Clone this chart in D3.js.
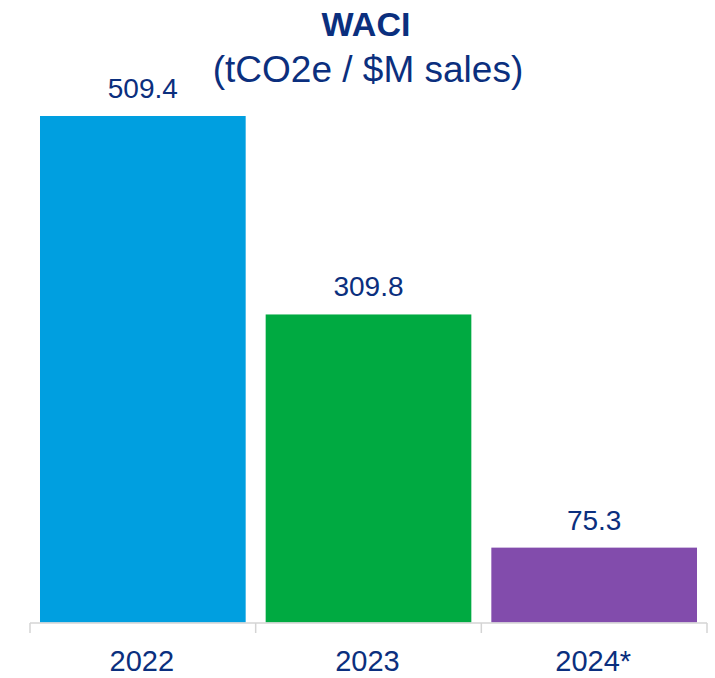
<!DOCTYPE html>
<html>
<head>
<meta charset="utf-8">
<script src="https://cdn.jsdelivr.net/npm/d3@7"></script>
<style>
  html, body { margin: 0; padding: 0; background: #fff; }
  svg { display: block; font-family: "Liberation Sans", Arial, sans-serif; }
</style>
</head>
<body>
<svg id="chart" width="715" height="678"></svg>
<script>
const categories = ["2022", "2023", "2024*"];
const values = [509.4, 309.8, 75.3];
const valueLabels = ["509.4", "309.8", "75.3"];
const barColors = ["#009fe0", "#00aa41", "#824cac"];
const titleText = "WACI";
const subtitleText = "(tCO2e / $M sales)";

const textColor = "#0b2f7e";
const svg = d3.select("#chart");

const x = d3.scaleBand()
  .domain(categories)
  .range([30, 707])
  .paddingInner(0.0886)
  .paddingOuter(0.0443);

const y = d3.scaleLinear()
  .domain([0, 509.4])
  .range([622.5, 116]);

// bars
svg.append("g").selectAll("rect")
  .data(values)
  .join("rect")
  .attr("x", (d, i) => x(categories[i]))
  .attr("width", x.bandwidth())
  .attr("y", d => y(d))
  .attr("height", d => y(0) - y(d))
  .attr("fill", (d, i) => barColors[i]);

// axis
const axis = svg.append("g").attr("transform", `translate(0,${y(0) + 0.5})`);
axis.append("line")
  .attr("x1", 30).attr("x2", 707)
  .attr("stroke", "#d4d4d4").attr("stroke-width", 1.5);
const tickPos = categories.map(c => x(c) - x.step() * x.paddingInner() / 2).concat([707]);
axis.selectAll("line.tick")
  .data(tickPos)
  .join("line")
  .attr("class", "tick")
  .attr("x1", d => d).attr("x2", d => d)
  .attr("y1", 0).attr("y2", 10)
  .attr("stroke", "#d4d4d4").attr("stroke-width", 1.5);

axis.selectAll("text")
  .data(categories)
  .join("text")
  .attr("x", d => x(d) + x.bandwidth() / 2 - 1)
  .attr("y", 47.5)
  .attr("text-anchor", "middle")
  .attr("font-size", 29)
  .attr("fill", textColor)
  .text(d => d);

// value labels
svg.append("g").selectAll("text")
  .data(values)
  .join("text")
  .attr("x", (d, i) => x(categories[i]) + x.bandwidth() / 2)
  .attr("y", d => y(d) - 18)
  .attr("text-anchor", "middle")
  .attr("font-size", 28)
  .attr("fill", textColor)
  .text((d, i) => valueLabels[i]);

// title
svg.append("text")
  .attr("x", 366).attr("y", 36)
  .attr("text-anchor", "middle")
  .attr("font-size", 34)
  .attr("font-weight", "bold")
  .attr("fill", textColor)
  .text(titleText);

svg.append("text")
  .attr("x", 368).attr("y", 82)
  .attr("text-anchor", "middle")
  .attr("font-size", 37)
  .attr("fill", textColor)
  .text(subtitleText);
</script>
</body>
</html>
